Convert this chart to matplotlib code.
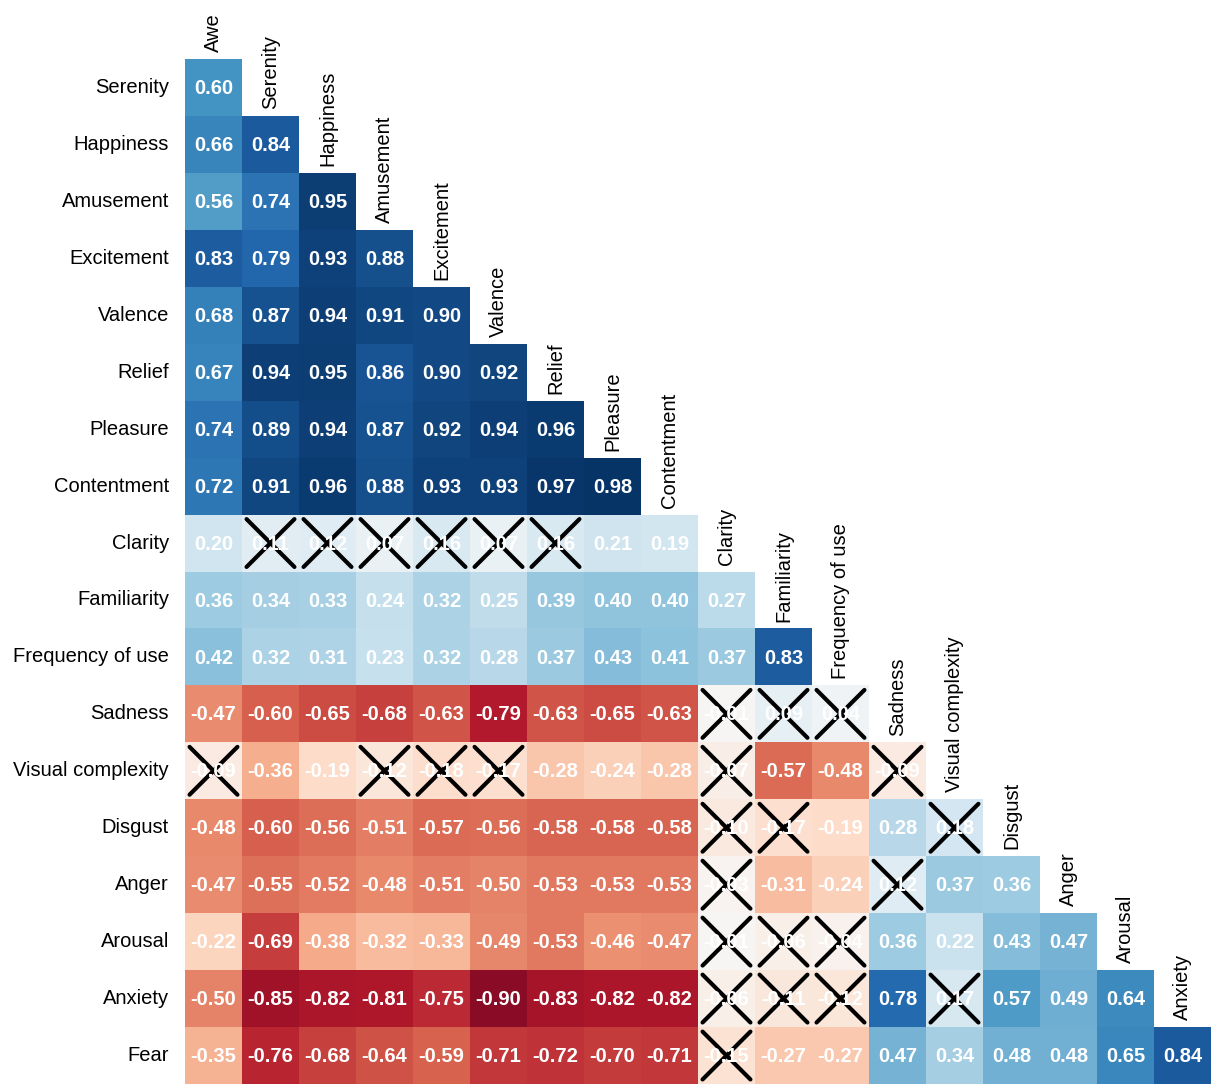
import numpy as np
import matplotlib.pyplot as plt

plt.rcParams['font.family'] = ['Liberation Sans', 'DejaVu Sans']

# variable names (rows are names[1:], columns are names[:-1])
names = ["Awe", "Serenity", "Happiness", "Amusement", "Excitement", "Valence",
         "Relief", "Pleasure", "Contentment", "Clarity", "Familiarity",
         "Frequency of use", "Sadness", "Visual complexity", "Disgust",
         "Anger", "Arousal", "Anxiety", "Fear"]

# lower triangle correlations, one list per row
r_serenity = [0.60]
r_happiness = [0.66, 0.84]
r_amusement = [0.56, 0.74, 0.95]
r_excitement = [0.83, 0.79, 0.93, 0.88]
r_valence = [0.68, 0.87, 0.94, 0.91, 0.90]
r_relief = [0.67, 0.94, 0.95, 0.86, 0.90, 0.92]
r_pleasure = [0.74, 0.89, 0.94, 0.87, 0.92, 0.94, 0.96]
r_contentment = [0.72, 0.91, 0.96, 0.88, 0.93, 0.93, 0.97, 0.98]
r_clarity = [0.20, 0.11, 0.12, 0.07, 0.16, 0.07, 0.16, 0.21, 0.19]
r_familiarity = [0.36, 0.34, 0.33, 0.24, 0.32, 0.25, 0.39, 0.40, 0.40, 0.27]
r_frequency = [0.42, 0.32, 0.31, 0.23, 0.32, 0.28, 0.37, 0.43, 0.41, 0.37, 0.83]
r_sadness = [-0.47, -0.60, -0.65, -0.68, -0.63, -0.79, -0.63, -0.65, -0.63,
             -0.01, 0.09, 0.04]
r_visual = [-0.09, -0.36, -0.19, -0.12, -0.18, -0.17, -0.28, -0.24, -0.28,
            -0.07, -0.57, -0.48, -0.09]
r_disgust = [-0.48, -0.60, -0.56, -0.51, -0.57, -0.56, -0.58, -0.58, -0.58,
             -0.10, -0.17, -0.19, 0.28, 0.18]
r_anger = [-0.47, -0.55, -0.52, -0.48, -0.51, -0.50, -0.53, -0.53, -0.53,
           -0.03, -0.31, -0.24, 0.12, 0.37, 0.36]
r_arousal = [-0.22, -0.69, -0.38, -0.32, -0.33, -0.49, -0.53, -0.46, -0.47,
             -0.01, -0.06, -0.04, 0.36, 0.22, 0.43, 0.47]
r_anxiety = [-0.50, -0.85, -0.82, -0.81, -0.75, -0.90, -0.83, -0.82, -0.82,
             -0.06, -0.11, -0.12, 0.78, 0.17, 0.57, 0.49, 0.64]
r_fear = [-0.35, -0.76, -0.68, -0.64, -0.59, -0.71, -0.72, -0.70, -0.71,
          -0.15, -0.27, -0.27, 0.47, 0.34, 0.48, 0.48, 0.65, 0.84]

rows = [r_serenity, r_happiness, r_amusement, r_excitement, r_valence, r_relief,
        r_pleasure, r_contentment, r_clarity, r_familiarity, r_frequency,
        r_sadness, r_visual, r_disgust, r_anger, r_arousal, r_anxiety, r_fear]

# correlations below this are not significant (crossed out)
sig_threshold = 0.19

n = len(rows)
mat = np.full((n, n), np.nan)
for i, vals in enumerate(rows):
    mat[i, :len(vals)] = vals

fig = plt.figure(figsize=(12.18, 10.84), dpi=100)
ax = fig.add_axes([185 / 1218, 1 - 1084 / 1084, 1026 / 1218, 1025 / 1084])
ax.pcolormesh(np.arange(n + 1), np.arange(n + 1), np.ma.masked_invalid(mat),
              cmap="RdBu", vmin=-1, vmax=1)
ax.set_xlim(0, n)
ax.set_ylim(n, 0)
ax.axis("off")

for i, vals in enumerate(rows):
    for j, v in enumerate(vals):
        ax.text(j + 0.5, i + 0.52, "%.2f" % v, ha="center", va="center",
                color="white", fontsize=14.5, fontweight="bold")
        if abs(v) < sig_threshold:
            d = 0.42
            ax.plot([j + 0.5 - d, j + 0.5 + d], [i + 0.5 - d, i + 0.5 + d],
                    color="black", lw=3, solid_capstyle="round")
            ax.plot([j + 0.5 - d, j + 0.5 + d], [i + 0.5 + d, i + 0.5 - d],
                    color="black", lw=3, solid_capstyle="round")

# row labels on the left
for i in range(n):
    ax.text(-0.28, i + 0.5, names[i + 1], ha="right", va="center",
            fontsize=14.5, clip_on=False)

# column labels sit just above the diagonal
for j in range(n):
    ax.text(j + 0.5, j - 0.12, names[j], ha="center", va="bottom",
            rotation=90, fontsize=14.5, clip_on=False)

fig.savefig("out.png", dpi=100)
